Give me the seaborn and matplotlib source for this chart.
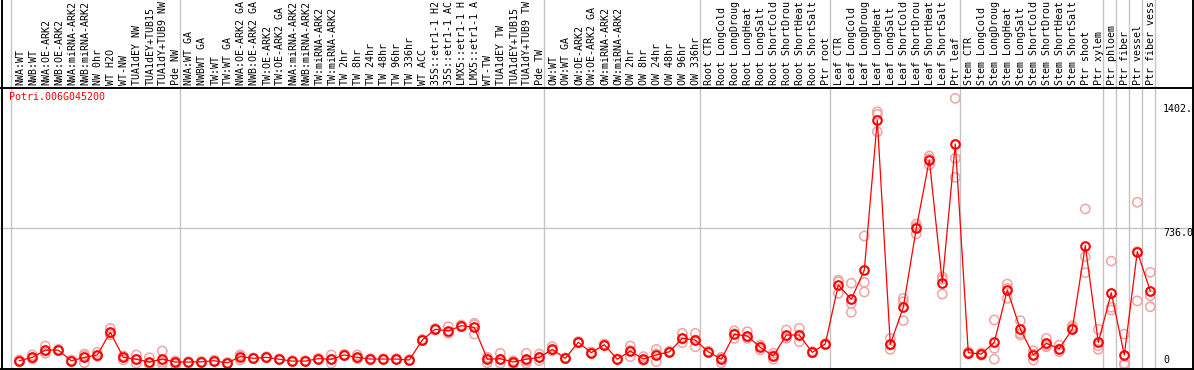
import matplotlib
matplotlib.use("Agg")
import matplotlib.pyplot as plt
from matplotlib.lines import Line2D
import seaborn as sns
import pandas as pd

# sample names, left to right
samples = [
    "NWA:WT", "NWB:WT", "NWA:OE-ARK2", "NWB:OE-ARK2", "NWA:miRNA-ARK2",
    "NWB:miRNA-ARK2", "NW 0hr", "WT H2O", "WT-NW", "TUA1dEY NW",
    "TUA1dEY+TUB15 NW", "TUA1dY+TUB9 NW", "Pde NW",
    "NWA:WT GA", "NWBWT GA", "TW:WT", "TW:WT GA", "NWA:OE-ARK2 GA",
    "NWB:OE-ARK2 GA", "TW:OE-ARK2", "TW:OE-ARK2 GA", "NWA:miRNA-ARK2",
    "NWB:miRNA-ARK2", "TW:miRNA-ARK2", "TW:miRNA-ARK2", "TW 2hr", "TW 8hr",
    "TW 24hr", "TW 48hr", "TW 96hr", "TW 336hr", "WT ACC",
    "35S::etr1-1 H2O", "35S::etr1-1 ACC", "LMX5::etr1-1 H2O",
    "LMX5::etr1-1 ACC", "WT-TW", "TUA1dEY TW", "TUA1dEY+TUB15 TW",
    "TUA1dY+TUB9 TW", "Pde TW",
    "OW:WT", "OW:WT GA", "OW:OE-ARK2", "OW:OE-ARK2 GA", "OW:miRNA-ARK2",
    "OW:miRNA-ARK2", "OW 2hr", "OW 8hr", "OW 24hr", "OW 48hr", "OW 96hr",
    "OW 336hr",
    "Root CTR", "Root LongCold", "Root LongDrought", "Root LongHeat",
    "Root LongSalt", "Root ShortCold", "Root ShortDrought", "Root ShortHeat",
    "Root ShortSalt", "Ptr root",
    "Leaf CTR", "Leaf LongCold", "Leaf LongDrought", "Leaf LongHeat",
    "Leaf LongSalt", "Leaf ShortCold", "Leaf ShortDrought", "Leaf ShortHeat",
    "Leaf ShortSalt", "Ptr leaf",
    "Stem CTR", "Stem LongCold", "Stem LongDrought", "Stem LongHeat",
    "Stem LongSalt", "Stem ShortCold", "Stem ShortDrought", "Stem ShortHeat",
    "Stem ShortSalt", "Ptr shoot", "Ptr xylem",
    "Ptr phloem", "Ptr fiber", "Ptr vessel", "Ptr fiber vessel",
]

# mean expression per sample
means = [
    23, 41, 80, 80, 23, 41, 54, 176, 41, 31,
    16, 32, 16, 16, 17, 23, 11, 45, 36, 41,
    31, 21, 21, 34, 31, 54, 41, 32, 32, 32,
    27, 134, 192, 183, 211, 202, 31, 34, 16, 31,
    41, 84, 36, 122, 66, 109, 31, 75, 32, 54,
    71, 143, 134, 71, 31, 165, 156, 95, 48, 161,
    161, 68, 113, 430, 353, 510, 1316, 111, 310, 734,
    1101, 442, 1187, 66, 59, 122, 403, 193, 54, 116,
    88, 193, 641, 122, 388, 54, 609, 397,
]

# replicate values per sample
reps = [
    [20, 23, 27], [54, 32, 38], [102, 63, 75], [84, 76, 80], [20, 26, 23],
    [59, 12, 50], [68, 48, 46], [197, 161, 170], [27, 48, 48], [54, 9, 30],
    [39, 5, 4], [75, 16, 5], [5, 20, 22], [14, 16, 18], [15, 17, 19],
    [20, 23, 26], [9, 11, 13], [54, 27, 50], [34, 36, 38], [38, 41, 44],
    [29, 31, 33], [19, 21, 23], [19, 21, 23], [32, 34, 36], [54, 9, 30],
    [50, 54, 58], [54, 35, 34], [30, 32, 34], [30, 32, 34], [30, 32, 34],
    [25, 27, 29], [130, 134, 138], [188, 192, 196], [206, 174, 170], [207, 211, 215],
    [224, 166, 216], [41, 12, 40], [63, 9, 30], [5, 20, 23], [63, 9, 21],
    [59, 23, 41], [98, 78, 76], [34, 36, 38], [118, 122, 126], [62, 66, 70],
    [105, 109, 113], [29, 31, 33], [102, 45, 78], [45, 25, 26], [84, 18, 60],
    [68, 71, 74], [170, 120, 139], [170, 98, 134], [68, 71, 74], [12, 40, 41],
    [184, 143, 168], [179, 143, 146], [107, 81, 97], [63, 31, 50], [188, 143, 152],
    [197, 125, 161], [70, 64, 70], [110, 113, 116], [456, 447, 385], [439, 331, 283],
    [693, 444, 392], [1360, 1346, 1253], [143, 84, 106], [358, 340, 238], [757, 743, 704],
    [1122, 1108, 1074], [474, 460, 381], [1432, 1110, 1008], [70, 60, 68], [60, 52, 65],
    [242, 90, 31], [435, 412, 358], [238, 170, 161], [77, 27, 58], [143, 107, 98],
    [107, 71, 86], [211, 202, 193], [838, 582, 496], [192, 104, 84], [558, 310, 295],
    [166, 9, 0], [874, 344, 609], [498, 372, 313],
]

# group boundaries (index of first sample after the line)
group_breaks = [0, 13, 41, 53, 63, 73, 84, 85, 86, 87, 88]
gene = "Potri.006G045200"
tick_vals = [1402, 736, 0]
tick_text = ["1402.", "736.0", "0"]

W, H = 1194, 370
mono = "DejaVu Sans Mono"
plt.rcParams["font.family"] = [mono, "DejaVu Sans"]

fig = plt.figure(figsize=(W / 100, H / 100), dpi=100)

# pixel helpers
X0, STEP = 19.3, 13.0
def px2x(p):
    return (p - X0) / STEP

PY0, PYS = 365.0, 0.1862  # pixel row of value 0, pixels per unit
def py2v(p):
    return (PY0 - p) / PYS

HEAD = 88
ax = fig.add_axes([0, 0, 1, (H - HEAD) / H])
hax = fig.add_axes([0, (H - HEAD) / H, 1, HEAD / H])
for a in (ax, hax):
    a.set_xlim(px2x(0), px2x(W))
    a.axis("off")
ax.set_ylim(py2v(H), py2v(HEAD))
hax.set_ylim(0, 1)

grid_c = "#c4c4c4"
for k in group_breaks:
    xb = px2x(11 + 13 * k)
    ax.axvline(xb, color=grid_c, lw=1, zorder=0)
    hax.axvline(xb, color=grid_c, lw=1, zorder=0)
ax.axhline(736, color=grid_c, lw=1, zorder=0)

xs = list(range(len(samples)))
rep_df = pd.DataFrame({
    "x": [i for i, r in enumerate(reps) for _ in r],
    "v": [v for r in reps for v in r],
})
sns.scatterplot(data=rep_df, x="x", y="v", ax=ax, marker="o", s=44,
                facecolor="none", edgecolor="#f2a3a3", linewidth=1.1,
                zorder=2, legend=False)
sns.lineplot(x=xs, y=means, ax=ax, color="red", lw=0.9, marker="o",
             markersize=6.2, markerfacecolor="none", markeredgecolor="red",
             markeredgewidth=1.5, zorder=3)
ax.set_xlim(px2x(0), px2x(W))
ax.set_ylim(py2v(H), py2v(HEAD))

# header labels: the header only has room for 14 characters
for i, name in enumerate(samples):
    hax.text(i + 0.08, 3 / HEAD, name[:14].rstrip(), rotation=90,
             ha="center", va="bottom", fontsize=7.2, family=mono,
             color="black", clip_on=True)

ax.text(px2x(9), py2v(97), gene, color="red", fontsize=7.2, family=mono,
        ha="left", va="center")
for v, t in zip(tick_vals, tick_text):
    ax.text(px2x(1163), v, t, fontsize=7.2, family=mono, ha="left",
            va="bottom" if v == 0 else "top")

# black frame lines
def hline(py):
    fig.add_artist(Line2D([0, 1], [1 - py / H] * 2, color="black", lw=1.4,
                          transform=fig.transFigure))
def vline(px):
    fig.add_artist(Line2D([px / W] * 2, [0, 1], color="black", lw=1.4,
                          transform=fig.transFigure))
hline(87.5)
hline(368.8)
vline(1.8)
vline(1192.6)

fig.savefig("out.png", dpi=100)
